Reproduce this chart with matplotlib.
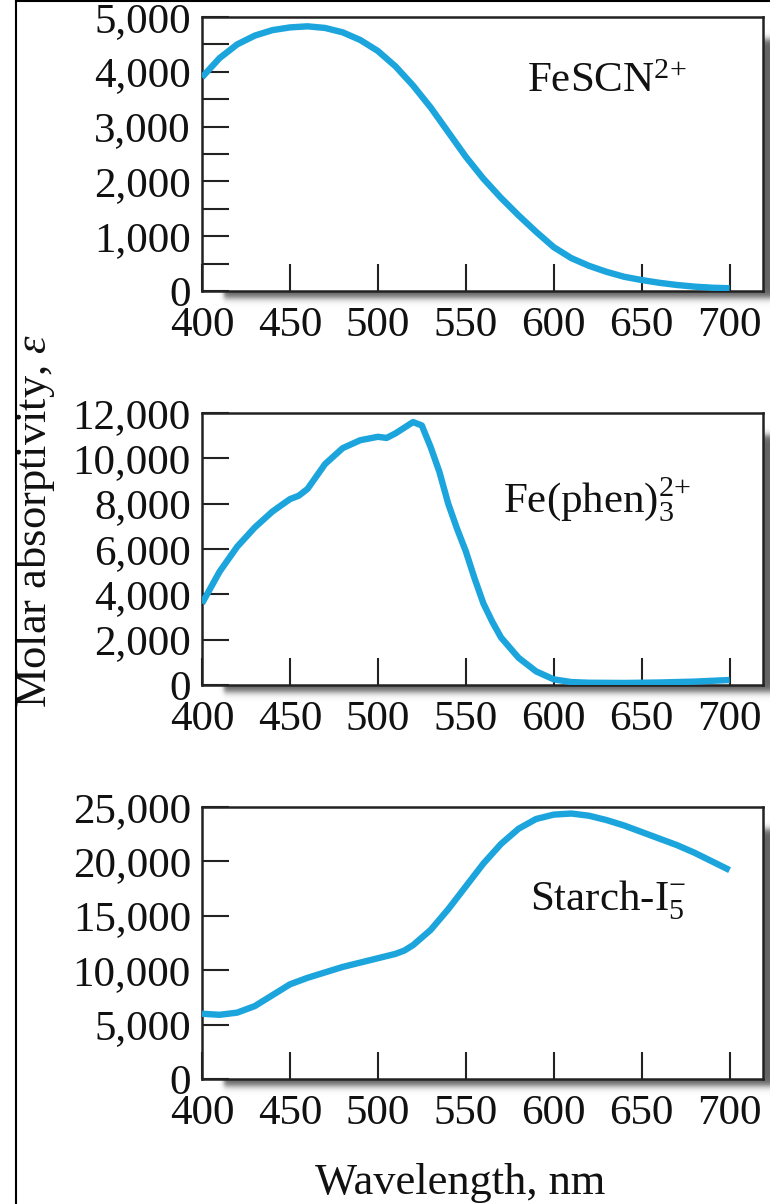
import numpy as np
import matplotlib
matplotlib.use("Agg")
import matplotlib.pyplot as plt
from matplotlib.ticker import MultipleLocator, StrMethodFormatter
from matplotlib.patches import Rectangle
from matplotlib.lines import Line2D

plt.rcParams['font.family'] = ['Liberation Serif', 'DejaVu Serif']
plt.rcParams['mathtext.fontset'] = 'custom'
plt.rcParams['mathtext.rm'] = 'Liberation Serif'
plt.rcParams['mathtext.it'] = 'Liberation Serif:italic'
plt.rcParams['mathtext.bf'] = 'Liberation Serif:bold'

# ---- data ----
wl_fescn = [400, 410, 420, 430, 440, 450, 460, 470, 480, 490, 500, 510, 520, 530,
            540, 550, 560, 570, 580, 590, 600, 610, 620, 630, 640, 650, 660, 670,
            680, 690, 700]
eps_fescn = [3900, 4250, 4500, 4660, 4760, 4810, 4830, 4800, 4720, 4580, 4380, 4100,
             3750, 3350, 2900, 2450, 2050, 1700, 1380, 1080, 800, 600, 460, 350,
             260, 200, 150, 110, 80, 60, 50]

wl_phen = [400, 410, 420, 430, 440, 450, 455, 460, 470, 480, 490, 500, 505, 510,
           515, 520, 525, 530, 535, 540, 545, 550, 555, 560, 565, 570, 580, 590,
           600, 610, 620, 640, 660, 680, 700]
eps_phen = [3600, 5000, 6100, 6950, 7650, 8200, 8350, 8650, 9750, 10450, 10800, 10950,
            10900, 11100, 11350, 11600, 11450, 10500, 9400, 8000, 6900, 5900, 4700,
            3600, 2800, 2100, 1200, 600, 250, 130, 100, 90, 110, 150, 220]

wl_starch = [400, 410, 420, 430, 440, 450, 460, 470, 480, 490, 500, 510, 515, 520,
             530, 540, 550, 560, 570, 580, 590, 600, 610, 620, 630, 640, 650, 660,
             670, 680, 690, 700]
eps_starch = [6000, 5900, 6100, 6700, 7700, 8700, 9300, 9800, 10300, 10700, 11100,
              11500, 11800, 12300, 13700, 15600, 17700, 19800, 21600, 23000, 23900,
              24300, 24400, 24200, 23800, 23300, 22700, 22100, 21500, 20800, 20000,
              19200]

species = [r"FeSCN$^{2{+}}$", r"Fe(phen)$_3^{2{+}}$", r"Starch-I$_5^{-}$"]
ymax = [5000, 12000, 25000]
ymajor = [1000, 2000, 5000]
yminor = [500, 2000, 5000]
xticks = [400, 450, 500, 550, 600, 650, 700]
xlabel = "Wavelength, nm"
ylabel = r"Molar absorptivity, $\varepsilon$"

series = [(wl_fescn, eps_fescn), (wl_phen, eps_phen), (wl_starch, eps_starch)]

# ---- layout ----
W, H = 770, 1204
fig = plt.figure(figsize=(W / 100, H / 100), dpi=100)
fig.patch.set_facecolor("white")

L, R = 202, 763
panels_px = [(17, 291), (413, 685), (807, 1079)]
label_pos = [(607, 82), (597, 500), (608, 900)]
line_color = "#1ba5dc"
fs = 31

def fx(x):
    return x / W

def fy(y):
    return 1 - y / H

# shadow background
bg = fig.add_axes([0, 0, 1, 1], zorder=-10)
bg.set_xlim(0, W)
bg.set_ylim(H, 0)
bg.axis("off")
yy, xx = np.mgrid[0:H, 0:W] + 0.5
shade = np.zeros((H, W))
def ramp(v, a, b, s):
    return (0.5 * (1 + np.tanh((v - a) / s))) * (0.5 * (1 + np.tanh((b - v) / s)))
for (t, b) in panels_px:
    sx = ramp(xx, L + 22, R + 12, 2.5)
    sy = ramp(yy, t + 22, b + 7, 4.0)
    shade = np.maximum(shade, sx * sy)
rgba = np.zeros((H, W, 4))
rgba[..., :3] = 0.28
rgba[..., 3] = shade * 0.85
bg.imshow(rgba, extent=(0, W, H, 0), interpolation="bilinear", aspect="auto")

for i, ((t, b), (wl, eps)) in enumerate(zip(panels_px, series)):
    ax = fig.add_axes([fx(L), fy(b), (R - L) / W, (b - t) / H])
    ax.plot(wl, eps, color=line_color, lw=4.6, solid_joinstyle="round",
            solid_capstyle="butt", zorder=3)
    ax.set_xlim(400, 719)
    ax.set_ylim(0, ymax[i])
    ax.set_xticks(xticks)
    ax.yaxis.set_major_locator(MultipleLocator(ymajor[i]))
    ax.yaxis.set_minor_locator(MultipleLocator(yminor[i]))
    ax.yaxis.set_major_formatter(StrMethodFormatter("{x:,.0f}"))
    ax.tick_params(axis="both", which="both", direction="in", length=19.5,
                   width=1.5, color="#222222", labelsize=fs, labelcolor="#111111")
    ax.tick_params(axis="x", pad=11)
    ax.tick_params(axis="y", pad=8)
    for sp in ax.spines.values():
        sp.set_linewidth(1.8)
        sp.set_color("#222222")
    fig.text(fx(label_pos[i][0]), fy(label_pos[i][1]), species[i],
             fontsize=fs, ha="center", va="center", color="#111111")

fig.text(fx(460), fy(1183), xlabel, fontsize=fs + 1, ha="center", va="center",
         color="#111111")
fig.text(fx(35), fy(521), ylabel, fontsize=fs + 1, ha="center", va="center",
         rotation=90, color="#111111")

# frame of the clipped figure
fig.patches.append(Rectangle((0, 0), 16 / W, 1, transform=fig.transFigure,
                             facecolor="white", edgecolor="none", zorder=20))
fig.lines.append(Line2D([16 / W, 16 / W], [0, 1], transform=fig.transFigure,
                        color="black", lw=1.5, zorder=21))
fig.lines.append(Line2D([16 / W, 1], [1 - 0.8 / H, 1 - 0.8 / H], transform=fig.transFigure,
                        color="black", lw=1.5, zorder=21))

fig.savefig("out.png", dpi=100)
